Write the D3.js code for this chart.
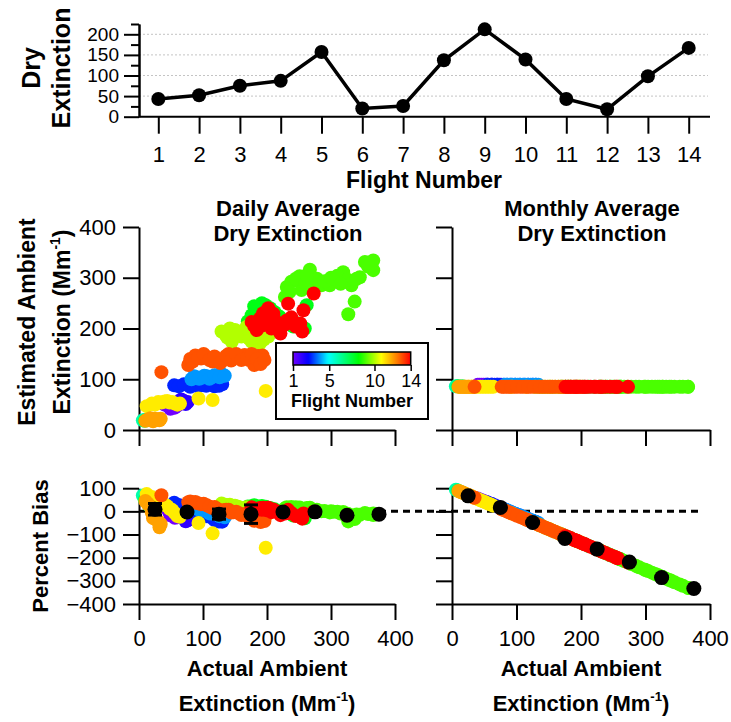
<!DOCTYPE html>
<html><head><meta charset="utf-8">
<script src="https://cdn.jsdelivr.net/npm/d3@7"></script>
<style>
body{margin:0;background:#fff;}
svg{display:block;font-family:"Liberation Sans",Arial,Helvetica,sans-serif;}
</style></head><body>
<svg id="chart" width="731" height="722"></svg>
<script>
// ---------------- DATA ----------------
const flightNumbers = [1,2,3,4,5,6,7,8,9,10,11,12,13,14];
const dryExtinction = [43,52,75,87,157,20,26,137,212,139,43,18,98,167];

// actual ambient extinction (x) per flight
const actualAmbient = [
  [40,46,52,56,60,43,49,54],
  [62,70,76,66,73],
  [55,62,70,80,92,105,118,130,85,98,112,125],
  [82,90,98,106,114,122,130,86,94,102,110,118,126,134],
  [],
  [6,10],
  [9,16],
  [170,184,192,205,220,241,259,262,176,198,212,230,248,180],
  [228,231,238,251,267,254,272,285,298,304,319,322,332,345,353,366,366,337,327,235,245,260,278,290,310,326,340,358,262,300,315],
  [129,142,155,145,160,176,189,202,168,135,150,138,165,172,182,195,152],
  [12,20,30,40,48,56,64,93,115,198,25,35,44,52,60],
  [10,15,20,25,30,34,22,13,18,27,32],
  [35,77,80,88,97,106,115,122,132,140,148,156,165,172,180,186,193,84,92,101,110,118,127,136,144,152,160,169,176,184,190,196],
  [176,189,202,184,199,215,223,231,221,252,255,233,257,273,210,180,194,207,228,238,245,205,192]
];
// estimated ambient extinction using daily average dry extinction
const dailyEstimate = [
  [50,47,52,44,48,55,42,47],
  [56,57,55,60,51],
  [88,86,90,85,86,87,86,90,89,88,90,87],
  [100,104,103,106,104,108,110,106,101,107,101,108,104,107],
  [],
  [19,20],
  [18,21],
  [214,237,250,240,223,204,200,246,226,246,232,214,210,244],
  [262,282,292,303,316,276,282,285,285,298,311,292,285,301,331,334,315,253,228,272,298,290,298,293,304,296,298,322,305,300,288],
  [194,200,194,174,184,174,171,184,203,188,197,182,192,180,190,178,186],
  [47,52,55,56,54,52,52,62,59,77,50,54,57,55,50],
  [18,21,19,22,21,22,17,20,23,20,19],
  [114,128,140,147,141,144,135,138,138,150,143,144,148,138,128,146,147,135,142,150,138,145,132,146,137,150,138,142,150,140,130,138],
  [213,220,240,197,210,213,203,216,190,210,194,249,236,269,229,205,230,200,208,222,204,216,206]
];
// estimated ambient extinction using monthly average dry extinction
const monthlyEstimate = [89,89,89,89,88,86,86,85,85,85,85,85,85,85];

// binned mean percent bias (black markers)
const binCenters = [25,75,125,175,225,275,325,375];
const dailyBinBias = [9,-3,-12,-12,-3,-2,-17,-12];
const dailyBinErr = [25,5,22,40,5,4,5,4];
const monthlyBinBias = [67,17,-48,-117,-163,-219,-286,-333];
const monthlyBinErr = [3,3,3,3,3,3,3,3];

const topYTicks = [0,50,100,150,200];
const topYMinor = [25,75,125,175,225];
const scatterYTicks = [0,100,200,300,400];
const ambientXTicks = [0,100,200,300,400];
const biasYTicks = [100,0,-100,-200,-300,-400];
const colorbarTicks = [1,5,10,14];

// rainbow colour table (flight number -> colour)
const colorStopFlights = [1,2.69,4.9,8.28,10.75,12.44,14];
const colorStopColors = ["#7000ff","#0000ff","#00ffff","#00ff00","#ffff00","#ff8000","#ff0000"];

// ---------------- DRAWING ----------------
const svg = d3.select("#chart");
const flightColor = d3.scaleLinear().domain(colorStopFlights).range(colorStopColors).interpolate(d3.interpolateRgb);

function styleAxis(g, size){
  g.attr("font-family",null).attr("font-size",null);
  g.selectAll("text").attr("font-size",size).attr("fill","#000");
  g.selectAll("line").attr("stroke","#000").attr("stroke-width",2);
  g.selectAll(".domain").attr("stroke","#000").attr("stroke-width",2);
}
function rotLabel(x, cy, size, parts){
  const t = svg.append("text").attr("transform",`translate(${x},${cy}) rotate(-90)`)
    .attr("text-anchor","middle").attr("font-weight","bold").attr("font-size",size);
  parts(t);
  return t;
}
function extinctionUnits(t, size){
  t.append("tspan").text("Extinction (Mm");
  t.append("tspan").attr("dy",-size*0.45).attr("font-size",size*0.6).text("-1");
  t.append("tspan").attr("dy",size*0.45).text(")");
}

// ---- TOP PANEL ----
const xTop = d3.scaleLinear().domain([1,14]).range([158.3,688.7]);
const yTop = d3.scaleLinear().domain([0,225]).range([116.7,24]);

svg.append("g").selectAll("line").data(topYTicks.filter(d=>d>0)).join("line")
  .attr("x1",139).attr("x2",708).attr("y1",d=>yTop(d)).attr("y2",d=>yTop(d))
  .attr("stroke","#c4c4c4").attr("stroke-width",1).attr("stroke-dasharray","2,2");

svg.append("g").attr("transform","translate(139,0)")
  .call(d3.axisLeft(yTop).tickValues(topYMinor).tickSize(8).tickSizeOuter(0).tickFormat(""))
  .call(g=>styleAxis(g,19));
svg.append("g").attr("transform","translate(139,0)")
  .call(d3.axisLeft(yTop).tickValues(topYTicks).tickSize(15).tickSizeOuter(0).tickPadding(5))
  .call(g=>styleAxis(g,19));
svg.append("g").attr("transform",`translate(0,${yTop(0)})`)
  .call(d3.axisBottom(xTop).tickValues(flightNumbers).tickSize(17).tickSizeOuter(0).tickPadding(13).tickFormat(d3.format("d")))
  .call(g=>g.select(".domain").remove())
  .call(g=>styleAxis(g,22));
svg.append("line").attr("x1",139).attr("x2",710).attr("y1",yTop(0)).attr("y2",yTop(0))
  .attr("stroke","#000").attr("stroke-width",2);

const topPts = flightNumbers.map((f,i)=>({f, v:dryExtinction[i]}));
svg.append("path").datum(topPts)
  .attr("d",d3.line().x(d=>xTop(d.f)).y(d=>yTop(d.v)))
  .attr("fill","none").attr("stroke","#000").attr("stroke-width",3.5);
svg.append("g").selectAll("circle").data(topPts).join("circle")
  .attr("cx",d=>xTop(d.f)).attr("cy",d=>yTop(d.v)).attr("r",7).attr("fill","#000");

svg.append("text").attr("x",424).attr("y",188).attr("text-anchor","middle")
  .attr("font-weight","bold").attr("font-size",23).text("Flight Number");
rotLabel(40,68,25,t=>t.text("Dry"));
rotLabel(70,68,25,t=>t.text("Extinction"));

// ---- MIDDLE & BOTTOM PANELS ----
const yScatter = d3.scaleLinear().domain([0,400]).range([430,227]);
const yBias = d3.scaleLinear().domain([-400,100]).range([604,488.2]);
const xLeft = d3.scaleLinear().domain([0,400]).range([139,395]);
const xRight = d3.scaleLinear().domain([0,400]).range([452,710]);

function yAxisAt(x, scale, ticks, labels){
  svg.append("g").attr("transform",`translate(${x},0)`)
    .call(d3.axisLeft(scale).tickValues(ticks).tickSize(16).tickSizeOuter(0).tickPadding(7)
      .tickFormat(labels? d3.format("d") : ""))
    .call(g=>styleAxis(g,22));
}
function xAxisAt(y, scale, labels){
  svg.append("g").attr("transform",`translate(0,${y})`)
    .call(d3.axisBottom(scale).tickValues(ambientXTicks).tickSize(16).tickSizeOuter(0).tickPadding(10)
      .tickFormat(labels? d3.format("d") : ""))
    .call(g=>styleAxis(g,22));
}
yAxisAt(139, yScatter, scatterYTicks, true);
yAxisAt(452, yScatter, scatterYTicks, false);
xAxisAt(430, xLeft, false);
xAxisAt(430, xRight, false);
yAxisAt(139, yBias, biasYTicks, true);
yAxisAt(452, yBias, biasYTicks, false);
xAxisAt(604, xLeft, true);
xAxisAt(604, xRight, true);

// zero-bias dashed line
svg.append("line").attr("x1",xLeft(0)).attr("x2",703).attr("y1",yBias(0)).attr("y2",yBias(0))
  .attr("stroke","#000").attr("stroke-width",3).attr("stroke-dasharray","7,5");

// point records
const pts = [];
flightNumbers.forEach((f,i)=>{
  actualAmbient[i].forEach((a,j)=>{
    const d = dailyEstimate[i][j], m = monthlyEstimate[i];
    pts.push({f, a, d, m, bd:(d-a)/d*100, bm:(m-a)/m*100});
  });
});
const R = 7;
function scatter(xs, ys, key){
  svg.append("g").selectAll("circle").data(pts).join("circle")
    .attr("cx",p=>xs(p.a)).attr("cy",p=>ys(p[key])).attr("r",R)
    .attr("fill",p=>flightColor(p.f));
}
scatter(xLeft, yScatter, "d");
scatter(xRight, yScatter, "m");
scatter(xLeft, yBias, "bd");
scatter(xRight, yBias, "bm");

// binned black markers with error bars
function binMarkers(xs, means, errs){
  const g = svg.append("g");
  binCenters.forEach((c,i)=>{
    const x = xs(c), y0 = yBias(means[i]-errs[i]), y1 = yBias(means[i]+errs[i]);
    g.append("line").attr("x1",x).attr("x2",x).attr("y1",y0).attr("y2",y1).attr("stroke","#000").attr("stroke-width",3);
    [y0,y1].forEach(y=>g.append("line").attr("x1",x-7).attr("x2",x+7).attr("y1",y).attr("y2",y).attr("stroke","#000").attr("stroke-width",3));
    g.append("circle").attr("cx",x).attr("cy",yBias(means[i])).attr("r",7.5).attr("fill","#000");
  });
}
binMarkers(xLeft, dailyBinBias, dailyBinErr);
binMarkers(xRight, monthlyBinBias, monthlyBinErr);

// panel titles
[[288,"Daily Average"],[592,"Monthly Average"]].forEach(([x,t])=>{
  svg.append("text").attr("x",x).attr("y",216).attr("text-anchor","middle")
    .attr("font-weight","bold").attr("font-size",22).text(t);
  svg.append("text").attr("x",x).attr("y",241).attr("text-anchor","middle")
    .attr("font-weight","bold").attr("font-size",22).text("Dry Extinction");
});

// y labels
rotLabel(35,322,23,t=>t.text("Estimated Ambient"));
rotLabel(70,322,23,t=>extinctionUnits(t,23));
rotLabel(48,546,22,t=>t.text("Percent Bias"));

// x labels
[267,581].forEach(cx=>{
  svg.append("text").attr("x",cx).attr("y",676).attr("text-anchor","middle")
    .attr("font-weight","bold").attr("font-size",22).text("Actual Ambient");
  const t = svg.append("text").attr("x",cx).attr("y",711).attr("text-anchor","middle")
    .attr("font-weight","bold").attr("font-size",22);
  extinctionUnits(t,22);
});

// ---- LEGEND (colour bar) ----
svg.append("rect").attr("x",276).attr("y",343).attr("width",152).attr("height",76)
  .attr("fill","#fff").attr("stroke","#000").attr("stroke-width",2);
const cbScale = d3.scaleLinear().domain([1,14]).range([293,410.7]);
const grad = svg.append("defs").append("linearGradient").attr("id","rainbow")
  .attr("x1","0%").attr("x2","100%").attr("y1","0%").attr("y2","0%");
d3.range(1,14.01,0.25).forEach(f=>{
  grad.append("stop").attr("offset",((f-1)/13*100)+"%").attr("stop-color",flightColor(f));
});
svg.append("rect").attr("x",cbScale(1)).attr("y",352).attr("width",cbScale(14)-cbScale(1)).attr("height",13)
  .attr("fill","url(#rainbow)").attr("stroke","#000").attr("stroke-width",1.5);
svg.append("g").attr("transform","translate(0,365)")
  .call(d3.axisBottom(cbScale).tickValues(colorbarTicks).tickSize(6).tickSizeOuter(0).tickPadding(3).tickFormat(d3.format("d")))
  .call(g=>g.select(".domain").remove())
  .call(g=>styleAxis(g,18))
  .call(g=>g.selectAll("line").attr("stroke-width",1.5));
svg.append("text").attr("x",352).attr("y",407).attr("text-anchor","middle")
  .attr("font-weight","bold").attr("font-size",18).text("Flight Number");
</script>
</body></html>
